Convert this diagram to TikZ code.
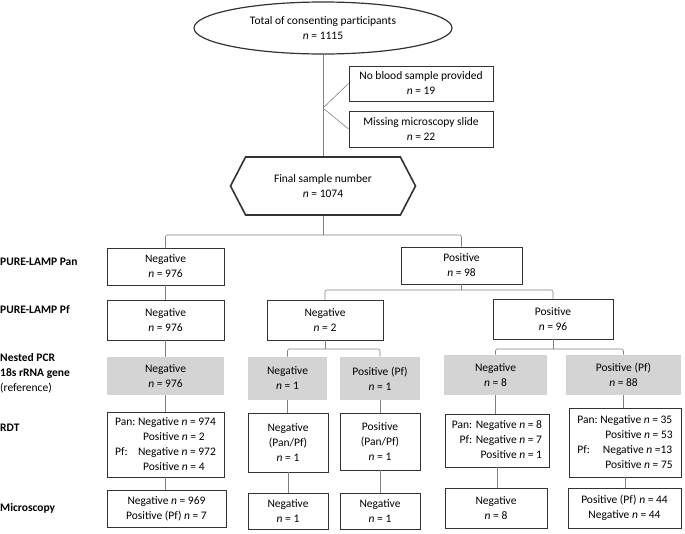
\documentclass[tikz,border=0pt]{standalone}
\usepackage{fontspec}
\setmainfont{Carlito}
\usetikzlibrary{shapes.geometric,shapes.symbols}
\newcommand{\nn}{\textit{n}}

\tikzset{
  box/.style={draw=black!80, line width=0.9pt, fill=white, align=center, inner sep=2pt, font=\fontsize{11.5}{15}\selectfont},
  pcrbox/.style={box, draw=none, fill=black!17},
  dims/.style 2 args={minimum width=#1, minimum height=#2},
  rowlabel/.style={anchor=west, align=left, inner sep=0pt, font=\fontsize{11.5}{15}\selectfont\bfseries},
  conn/.style={draw=black!50, line width=0.6pt, rounded corners=2pt},
}

\begin{document}
\begin{tikzpicture}[x=1pt, y=-1pt]
  \useasboundingbox (0,0) rectangle (685,533);

  % enrolment and exclusions
  \node[box, ellipse, line width=1.2pt, dims={258pt}{52pt}] (total) at (323,28) {Total of consenting participants\\\nn{} = 1115};
  \node[box, dims={144pt}{35pt}] (noblood) at (421,83.5) {No blood sample provided\\\nn{} = 19};
  \node[box, dims={144pt}{36pt}] (noslide) at (421,129) {Missing microscopy slide\\\nn{} = 22};
  \node[box, signal, signal to=west and east, signal pointer angle=125, line width=1.6pt, dims={185pt}{58pt}] (final) at (323,186) {Final sample number\\\nn{} = 1074};

  % row labels
  \node[rowlabel] (lblpan) at (0,262) {PURE-LAMP Pan};
  \node[rowlabel] (lblpf) at (0,310) {PURE-LAMP Pf};
  \node[rowlabel] (lblpcr) at (0,373) {Nested PCR\\18s rRNA gene\\\mdseries (reference)};
  \node[rowlabel] (lblrdt) at (0,428) {RDT};
  \node[rowlabel] (lblmic) at (0,508) {Microscopy};

  % PURE-LAMP
  \node[box, dims={117pt}{37pt}] (lpneg) at (165.5,266.5) {Negative\\\nn{} = 976};
  \node[box, dims={121pt}{37pt}] (lppos) at (461.5,265.5) {Positive\\\nn{} = 98};
  \node[box, dims={117pt}{40pt}] (pfneg1) at (165.5,320) {Negative\\\nn{} = 976};
  \node[box, dims={116pt}{40pt}] (pfneg2) at (325,320) {Negative\\\nn{} = 2};
  \node[box, dims={120pt}{40pt}] (pfpos) at (553,319) {Positive\\\nn{} = 96};

  % nested PCR
  \node[pcrbox, dims={117pt}{38pt}] (pcr1) at (165.5,376) {Negative\\\nn{} = 976};
  \node[pcrbox, dims={79pt}{43pt}] (pcr2) at (287.5,378.5) {Negative\\\nn{} = 1};
  \node[pcrbox, dims={80pt}{43pt}] (pcr3) at (380,378.5) {Positive (Pf)\\\nn{} = 1};
  \node[pcrbox, dims={103pt}{40pt}] (pcr4) at (495.5,375) {Negative\\\nn{} = 8};
  \node[pcrbox, dims={115pt}{40pt}] (pcr5) at (623.5,375) {Positive (Pf)\\\nn{} = 88};

  % RDT
  \node[box, dims={117pt}{65pt}] (rdt1) at (165.5,444.5) {\begin{tabular}{@{}l@{\ }l@{}}Pan: & Negative \nn{} = 974\\ & \ \ Positive \nn{} = 2\\ Pf: & Negative \nn{} = 972\\ & \ \ Positive \nn{} = 4\end{tabular}};
  \node[box, dims={80pt}{59pt}] (rdt2) at (288,442.5) {Negative\\(Pan/Pf)\\\nn{} = 1};
  \node[box, dims={80pt}{57pt}] (rdt3) at (380,441.5) {Positive\\(Pan/Pf)\\\nn{} = 1};
  \node[box, dims={104pt}{53pt}] (rdt4) at (497,440.5) {\begin{tabular}{@{}r@{}}Pan: Negative \nn{} = 8\\ Pf: Negative \nn{} = 7\\ Positive \nn{} = 1\end{tabular}};
  \node[box, dims={112pt}{69pt}] (rdt5) at (625,442.5) {\begin{tabular}{@{}l@{\ }l@{}}Pan: & Negative \nn{} = 35\\ & \ \ Positive \nn{} = 53\\ Pf: & \ Negative \nn{} =13\\ & \ \ Positive \nn{} = 75\end{tabular}};

  % microscopy
  \node[box, dims={119pt}{37pt}] (micro1) at (166.5,508.5) {Negative \nn{} = 969\\Positive (Pf) \nn{} = 7};
  \node[box, dims={80pt}{36pt}] (micro2) at (288,511) {Negative\\\nn{} = 1};
  \node[box, dims={80pt}{36pt}] (micro3) at (380,511) {Negative\\\nn{} = 1};
  \node[box, dims={102pt}{40pt}] (micro4) at (496,508) {Negative\\\nn{} = 8};
  \node[box, dims={113pt}{40pt}] (micro5) at (624.5,508) {Positive (Pf) \nn{} = 44\\Negative \nn{} = 44};

  % connectors
  \coordinate (split) at (323,108);
  \coordinate (fork) at (323,235);
  \coordinate (forklp) at (461.5,290);
  \coordinate (forkneg) at (325,349);
  \coordinate (forkpos) at (553,349);
  \draw[conn] (total.south) -- (final.north);
  \draw[conn] (split) -- (noblood.west);
  \draw[conn] (split) -- (noslide.west);
  \draw[conn] (final.south) -- (fork);
  \draw[conn] (lpneg.north) |- (fork) -| (lppos.north);
  \draw[conn] (lpneg) -- (pfneg1);
  \draw[conn] (lppos.south) -- (forklp);
  \draw[conn] (pfneg2.north) |- (forklp) -| (pfpos.north);
  \draw[conn] (pfneg1) -- (pcr1);
  \draw[conn] (pfneg2.south) -- (forkneg);
  \draw[conn] (pcr2.north) |- (forkneg) -| (pcr3.north);
  \draw[conn] (pfpos.south) -- (forkpos);
  \draw[conn] (pcr4.north) |- (forkpos) -| (pcr5.north);
  \foreach \i in {1,...,5} {
    \draw[conn] (pcr\i.south) -- (pcr\i.south |- rdt\i.north);
    \draw[conn] (rdt\i.south) -- (rdt\i.south |- micro\i.north);
  }
\end{tikzpicture}
\end{document}
